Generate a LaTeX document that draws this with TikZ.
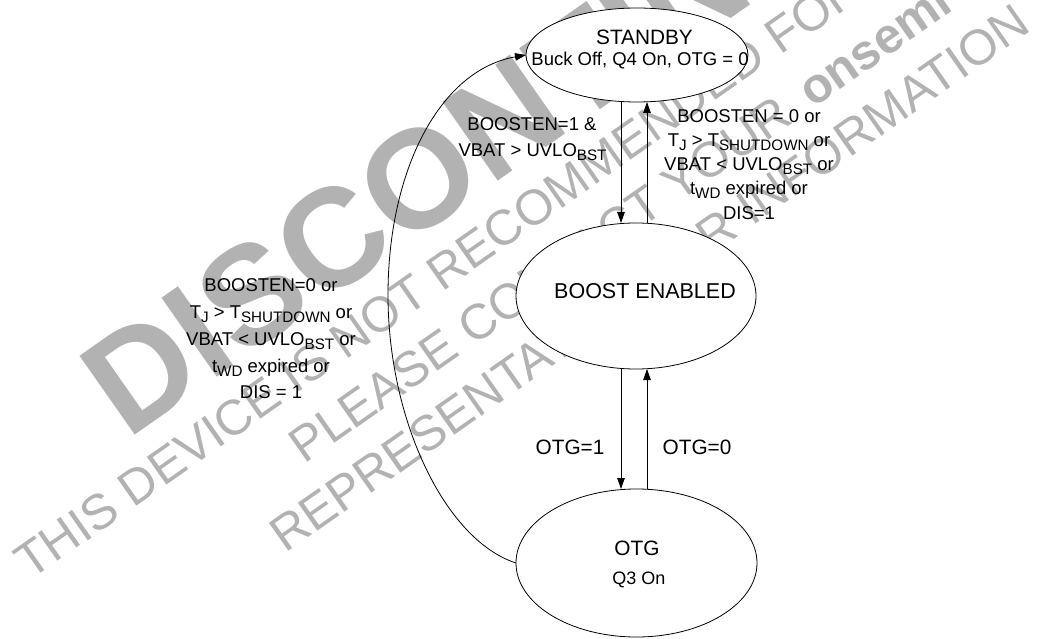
\documentclass[tikz,border=0pt]{standalone}
\usepackage{fontspec}
\setmainfont{Liberation Sans}
\usetikzlibrary{shapes.geometric,arrows.meta}
\newcommand{\fs}[1]{\fontsize{#1pt}{#1pt}\selectfont}
\newcommand{\lowtxt}[1]{\raisebox{-4pt}{\fs{15.2}#1}}
\definecolor{wm}{HTML}{B2B2B2}
\tikzset{
  state/.style={ellipse,draw=black,fill=white,line width=0.8pt,inner sep=0pt,outer sep=0pt},
  flow/.style={draw=black,line width=0.8pt,-{Triangle[length=11pt,width=7.5pt]}},
  wmbig/.style={anchor=base west,rotate=35,text=wm,inner sep=0pt,font=\fs{140}\bfseries},
  wmline/.style={anchor=base west,rotate=35,text=wm,inner sep=0pt,font=\fs{49.5}},
  wmbold/.style={anchor=base west,rotate=35,text=wm,inner sep=0pt,font=\fs{49.5}\bfseries},
  lbl/.style={anchor=base,inner sep=0pt,text=black,font=\fs{18.5}},
  ttl/.style={anchor=base,inner sep=0pt,text=black,font=\fs{20.8}}
}
\begin{document}
\begin{tikzpicture}[x=1pt,y=-1pt]
\useasboundingbox (0,0) rectangle (1044,639);
\clip (0,0) rectangle (1044,639);
% watermark
\node[wmbig] (wa) at (127,441) {DISCONTINUED};
\node[wmline] (wb) at (30,581) {THIS DEVICE IS NOT RECOMMENDED FOR};
\node[wmline] (wc) at (304,465) {PLEASE CONTACT YOUR};
\node[wmline] (wd) at (285,554) {REPRESENTATIVE FOR INFORMATION};
\node[wmbold] (we) at (813,109) {onsemi};
% states
\node[state,minimum width=222pt,minimum height=94pt] (standby) at (637,55) {};
\node[state,minimum width=240pt,minimum height=146pt] (boost) at (636,296) {};
\node[state,minimum width=241pt,minimum height=148pt] (otg) at (636.5,563) {};
% state text
\node[ttl] (t1) at (644.5,45) {STANDBY};
\node[lbl] (t2) at (640,66) {Buck Off, Q4 On, OTG = 0};
\node[ttl,font=\fs{21.5}] (t3) at (645,298) {BOOST ENABLED};
\node[ttl] (t4) at (637,555) {OTG};
\node[lbl,font=\fs{18}] (t5) at (639,584) {Q3 On};
% connectors
\coordinate (dnx) at (621,0);
\coordinate (upx) at (647,0);
\draw[flow] (standby.south -| dnx) -- (boost.north -| dnx);
\draw[flow] (boost.north -| upx) -- (standby.south -| upx);
\draw[flow] (boost.south -| dnx) -- (otg.north -| dnx);
\draw[flow] (otg.north -| upx) -- (boost.south -| upx);
\coordinate (far) at (388,295);
\draw[flow] (otg.west) .. controls (445,540) and (388,420) .. (far) .. controls (388,170) and (440,70) .. (standby.west);
% labels
\node[lbl] (a1) at (532,131) {BOOSTEN=1 \&};
\node[lbl] (a2) at (532.5,157) {VBAT > UVLO\lowtxt{BST}};
\node[lbl] (b1) at (749,123) {BOOSTEN = 0 or};
\node[lbl] (b2) at (749,147) {T\lowtxt{J} > T\lowtxt{SHUTDOWN} or};
\node[lbl] (b3) at (749,171) {VBAT < UVLO\lowtxt{BST} or};
\node[lbl] (b4) at (749,195) {t\lowtxt{WD} expired or};
\node[lbl] (b5) at (749,219) {DIS=1};
\node[lbl] (c1) at (271,291.5) {BOOSTEN=0 or};
\node[lbl] (c2) at (271,318) {T\lowtxt{J} > T\lowtxt{SHUTDOWN} or};
\node[lbl] (c3) at (271,345) {VBAT < UVLO\lowtxt{BST} or};
\node[lbl] (c4) at (271,372) {t\lowtxt{WD} expired or};
\node[lbl] (c5) at (271,398) {DIS = 1};
\node[ttl] (d1) at (570,454) {OTG=1};
\node[ttl] (d2) at (697,454) {OTG=0};
\end{tikzpicture}
\end{document}
